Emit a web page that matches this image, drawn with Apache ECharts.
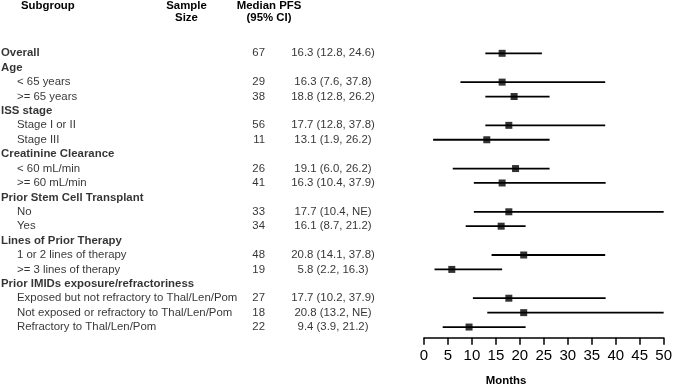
<!DOCTYPE html>
<html>
<head>
<meta charset="utf-8">
<script src="https://cdn.jsdelivr.net/npm/echarts@6/dist/echarts.min.js"></script>
<style>html,body{margin:0;padding:0;background:#fff}#c{width:675px;height:386px}</style>
</head>
<body>
<div id="c"></div>
<script>
var labels = ['Overall','Age','< 65 years','>= 65 years','ISS stage','Stage I or II','Stage III','Creatinine Clearance','< 60 mL/min','>= 60 mL/min','Prior Stem Cell Transplant','No','Yes','Lines of Prior Therapy','1 or 2 lines of therapy','>= 3 lines of therapy','Prior IMIDs exposure/refractoriness','Exposed but not refractory to Thal/Len/Pom','Not exposed or refractory to Thal/Len/Pom','Refractory to Thal/Len/Pom'];
var isHeader = [1,1,0,0,1,0,0,1,0,0,1,0,0,1,0,0,1,0,0,0];
var sampleSize = [67,null,29,38,null,56,11,null,26,41,null,33,34,null,48,19,null,27,18,22];
var median = [16.3,null,16.3,18.8,null,17.7,13.1,null,19.1,16.3,null,17.7,16.1,null,20.8,5.8,null,17.7,20.8,9.4];
var lower = [12.8,null,7.6,12.8,null,12.8,1.9,null,6.0,10.4,null,10.4,8.7,null,14.1,2.2,null,10.2,13.2,3.9];
// null upper = not estimable (NE)
var upper = [24.6,null,37.8,26.2,null,37.8,26.2,null,26.2,37.9,null,null,21.2,null,37.8,16.3,null,37.9,null,21.2];
var xTicks = [0,5,10,15,20,25,30,35,40,45,50];

var X_MAX = xTicks[xTicks.length-1];
var FONT = 'Liberation Sans, Arial, sans-serif';
var FS = 11.4;

var labelData = [], nData = [], pfsData = [], ciData = [], ptData = [];
labels.forEach(function(l, i){
  labelData.push({value:[isHeader[i]?1:17, i], label:{show:true, formatter:l, fontWeight:isHeader[i]?'bold':'normal'}});
  if (sampleSize[i] != null) {
    nData.push({value:[265, i], label:{show:true, formatter:String(sampleSize[i])}});
    var t = median[i].toFixed(1) + ' (' + lower[i].toFixed(1) + ', ' + (upper[i]==null?'NE':upper[i].toFixed(1)) + ')';
    pfsData.push({value:[333, i], label:{show:true, formatter:t}});
    ciData.push([lower[i], upper[i]==null?X_MAX:upper[i], i]);
    ptData.push([median[i], i]);
  }
});

var chart = echarts.init(document.getElementById('c'), null, {renderer:'canvas'});
var gTop = 38.9, gBottom = 48.3;
var yCommon = {type:'value', inverse:true, min:-1, max:19.74, show:false};
var hdr = 'bold ' + FS + 'px ' + FONT;
chart.setOption({
  animation:false,
  textStyle:{fontFamily:FONT},
  grid:[
    {left:424, right:9, top:gTop, bottom:gBottom},
    {left:0, right:0, top:gTop, bottom:gBottom}
  ],
  xAxis:[
    {gridIndex:0, type:'value', min:0, max:X_MAX, interval:5,
     axisLine:{show:true, onZero:false, lineStyle:{color:'#000', width:1.5}},
     axisTick:{show:true, length:7, lineStyle:{color:'#000', width:1.5}},
     axisLabel:{color:'#000', fontSize:15, margin:11, fontFamily:FONT},
     splitLine:{show:false}},
    {gridIndex:1, type:'value', min:0, max:675, show:false}
  ],
  yAxis:[
    Object.assign({gridIndex:0}, yCommon),
    Object.assign({gridIndex:1}, yCommon)
  ],
  graphic:[
    {type:'text', x:21, y:6, style:{text:'Subgroup', font:hdr, fill:'#000', textAlign:'left', textVerticalAlign:'middle'}},
    {type:'text', x:186.5, y:6, style:{text:'Sample', font:hdr, fill:'#000', textAlign:'center', textVerticalAlign:'middle'}},
    {type:'text', x:186.5, y:17.5, style:{text:'Size', font:hdr, fill:'#000', textAlign:'center', textVerticalAlign:'middle'}},
    {type:'text', x:269, y:6, style:{text:'Median PFS', font:hdr, fill:'#000', textAlign:'center', textVerticalAlign:'middle'}},
    {type:'text', x:269, y:17.5, style:{text:'(95% CI)', font:hdr, fill:'#000', textAlign:'center', textVerticalAlign:'middle'}},
    {type:'text', x:506, y:381, style:{text:'Months', font:hdr, fill:'#000', textAlign:'center', textVerticalAlign:'middle'}}
  ],
  series:[
    {type:'scatter', xAxisIndex:1, yAxisIndex:1, symbolSize:0, data:labelData,
     label:{position:'right', distance:0, color:'#000', fontSize:FS, fontFamily:FONT, align:'left', verticalAlign:'middle'}},
    {type:'scatter', xAxisIndex:1, yAxisIndex:1, symbolSize:0, data:nData,
     label:{position:'left', distance:0, color:'#000', fontSize:FS, fontFamily:FONT, align:'right', verticalAlign:'middle'}},
    {type:'scatter', xAxisIndex:1, yAxisIndex:1, symbolSize:0, data:pfsData,
     label:{position:'inside', color:'#000', fontSize:FS, fontFamily:FONT, align:'center', verticalAlign:'middle'}},
    {type:'custom', xAxisIndex:0, yAxisIndex:0, data:ciData,
     renderItem:function(params, api){
       var a = api.coord([api.value(0), api.value(2)]);
       var b = api.coord([api.value(1), api.value(2)]);
       return {type:'line', shape:{x1:a[0], y1:a[1], x2:b[0], y2:b[1]}, style:{stroke:'#000', lineWidth:1.8}};
     }},
    {type:'scatter', xAxisIndex:0, yAxisIndex:0, symbol:'rect', symbolSize:7, data:ptData,
     itemStyle:{color:'#000'}, z:5}
  ]
});
</script>
</body>
</html>
